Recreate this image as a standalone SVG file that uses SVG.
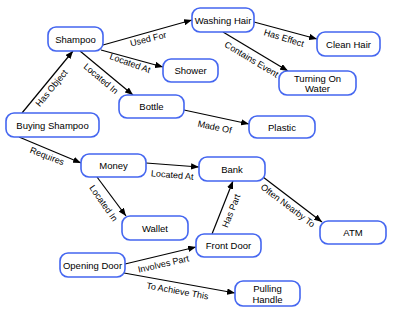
<svg xmlns="http://www.w3.org/2000/svg" width="402" height="316" viewBox="0 0 402 316">
<style>
.n rect{fill:#fff;stroke:#4466f0;stroke-width:1.6}
.n text{font-family:"Liberation Sans",Arial,sans-serif;font-size:9.5px;fill:#000;text-anchor:middle}
.e line{stroke:#000;stroke-width:1.2;marker-end:url(#ah)}
.e text{font-family:"Liberation Sans",Arial,sans-serif;font-size:9px;fill:#000;text-anchor:middle}
</style>
<defs>
<marker id="ah" viewBox="0 0 10 8" refX="10" refY="4" markerWidth="8" markerHeight="6.4" markerUnits="userSpaceOnUse" orient="auto">
<path d="M0,0L10,4L0,8z" fill="#000"/>
</marker>
</defs>
<rect width="402" height="316" fill="#fff"/>
<g id="connectors" class="e">
<line x1="22" y1="113" x2="73" y2="51"/>
<text transform="translate(54,90) rotate(-50.6)">Has Object</text>
<line x1="103" y1="45" x2="192" y2="20"/>
<text transform="translate(149,42) rotate(-14)">Used For</text>
<line x1="101" y1="50" x2="163" y2="67"/>
<text transform="translate(129,66) rotate(20)">Located At</text>
<line x1="80" y1="51" x2="133" y2="95"/>
<text transform="translate(99,81) rotate(40)">Located In</text>
<line x1="184" y1="110" x2="249" y2="124"/>
<text transform="translate(214,130) rotate(12)">Made Of</text>
<line x1="254" y1="22" x2="317" y2="39"/>
<text transform="translate(283,41) rotate(17)">Has Effect</text>
<line x1="223" y1="32" x2="288" y2="71"/>
<text transform="translate(250,62) rotate(31)">Contains Event</text>
<line x1="19" y1="137" x2="81" y2="163"/>
<text transform="translate(46,159) rotate(21)">Requires</text>
<line x1="146" y1="163" x2="199" y2="167"/>
<text transform="translate(172,178) rotate(5)">Located At</text>
<line x1="97" y1="177" x2="126" y2="216"/>
<text transform="translate(101,205) rotate(55)">Located In</text>
<line x1="263" y1="177" x2="322" y2="222"/>
<text transform="translate(286,208) rotate(37)">Often Nearby To</text>
<line x1="212" y1="234" x2="233" y2="181"/>
<text transform="translate(234,212) rotate(-68)">Has Part</text>
<line x1="125" y1="264" x2="196" y2="247"/>
<text transform="translate(164,267) rotate(-13)">Involves Part</text>
<line x1="124" y1="273" x2="235" y2="293"/>
<text transform="translate(177,294) rotate(10)">To Achieve This</text>
</g>
<g id="shampoo" class="n"><rect x="48" y="27" width="55" height="24" rx="8"/><text x="75.5" y="42.5">Shampoo</text></g>
<g id="washing-hair" class="n"><rect x="192" y="8" width="62" height="24" rx="8"/><text x="223" y="23.5">Washing Hair</text></g>
<g id="clean-hair" class="n"><rect x="317" y="32" width="63" height="24" rx="8"/><text x="348.5" y="47.5">Clean Hair</text></g>
<g id="shower" class="n"><rect x="163" y="59" width="55" height="23" rx="8"/><text x="190.5" y="74">Shower</text></g>
<g id="turning-on-water" class="n"><rect x="279" y="71" width="77" height="24" rx="8"/><text x="317.5" y="81.5">Turning On</text><text x="317.5" y="92">Water</text></g>
<g id="bottle" class="n"><rect x="119" y="95" width="65" height="23" rx="8"/><text x="151.5" y="110">Bottle</text></g>
<g id="buying-shampoo" class="n"><rect x="6" y="113" width="93" height="24" rx="8"/><text x="52.5" y="128.5">Buying Shampoo</text></g>
<g id="plastic" class="n"><rect x="249" y="116" width="66" height="22" rx="8"/><text x="282" y="130.5">Plastic</text></g>
<g id="money" class="n"><rect x="81" y="154" width="65" height="23" rx="8"/><text x="113.5" y="169">Money</text></g>
<g id="bank" class="n"><rect x="199" y="157" width="66" height="24" rx="8"/><text x="232" y="172.5">Bank</text></g>
<g id="wallet" class="n"><rect x="122" y="216" width="66" height="24" rx="8"/><text x="155" y="231.5">Wallet</text></g>
<g id="atm" class="n"><rect x="320" y="221" width="66" height="23" rx="8"/><text x="353" y="236">ATM</text></g>
<g id="front-door" class="n"><rect x="196" y="234" width="65" height="23" rx="8"/><text x="228.5" y="249">Front Door</text></g>
<g id="opening-door" class="n"><rect x="60" y="253" width="65" height="24" rx="8"/><text x="92.5" y="268.5">Opening Door</text></g>
<g id="pulling-handle" class="n"><rect x="235" y="281" width="65" height="25" rx="8"/><text x="267.5" y="291.5">Pulling</text><text x="267.5" y="302.5">Handle</text></g>
</svg>
